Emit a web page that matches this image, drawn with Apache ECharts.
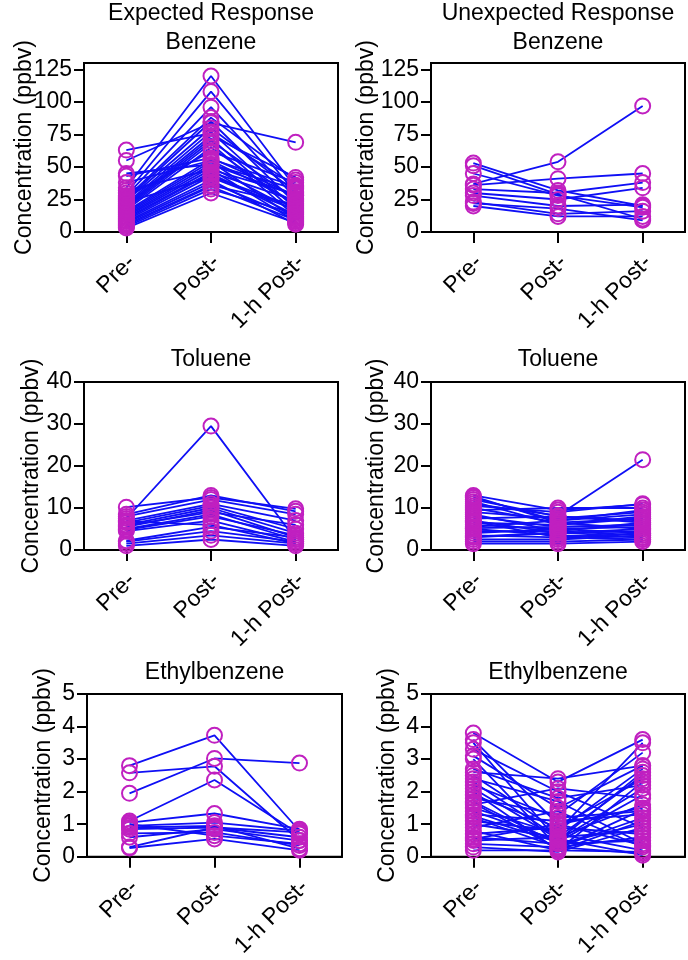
<!DOCTYPE html>
<html>
<head>
<meta charset="utf-8">
<script src="https://cdn.jsdelivr.net/npm/echarts@6/dist/echarts.min.js"></script>
<style>
html,body{margin:0;padding:0;background:#fff;}
#chart{width:688px;height:960px;}
</style>
</head>
<body>
<div id="chart"></div>
<script>
// Categories
const categories = ['Pre-', 'Post-', '1-h Post-'];

// Panel titles
const panelTitles = ['Expected Response\nBenzene', 'Unexpected Response\nBenzene', 'Toluene', 'Toluene', 'Ethylbenzene', 'Ethylbenzene'];
const yAxisName = 'Concentration (ppbv)';

// Tick labels
const benzeneTicks = [0, 25, 50, 75, 100, 125];
const tolueneTicks = [0, 10, 20, 30, 40];
const ethylTicks = [0, 1, 2, 3, 4, 5];

// Expected Response - Benzene
const benzExpPre  = [63, 55, 45, 43, 34, 30, 28, 26, 25, 24, 22, 21, 20, 19, 18, 17, 16, 15, 14, 13, 12, 11, 10, 9, 8, 7, 6, 5, 4, 3, 27, 23, 32, 38];
const benzExpPost = [76, 84, 52, 57, 120, 108, 96, 88, 85, 80, 77, 74, 72, 70, 68, 65, 56, 54, 52, 50, 48, 46, 45, 43, 40, 38, 36, 35, 33, 30, 62, 42, 48, 55];
const benzExp1h   = [36, 69, 33, 28, 34, 30, 26, 40, 22, 31, 18, 42, 15, 25, 12, 20, 35, 10, 28, 16, 8, 24, 13, 19, 6, 11, 21, 9, 14, 7, 38, 17, 29, 23];

// Unexpected Response - Benzene
const benzUnPre  = [37, 53, 51, 45, 36, 33, 30, 28, 23, 20, 22];
const benzUnPost = [54, 32, 29, 28, 41, 30, 25, 20, 14, 12, 18];
const benzUn1h   = [97, 20, 10, 19, 45, 38, 34, 21, 16, 12, 9];

// Expected Response - Toluene
const tolExpPre  = [7.5, 10.2, 8.5, 8, 7, 6.5, 6, 5.5, 5, 4.8, 4.5, 6.8, 5.8, 2, 1.5, 1, 2.2];
const tolExpPost = [29.5, 12.5, 13, 12, 11, 10.5, 10, 9.5, 8.5, 8, 7, 6, 9, 4.5, 3.5, 2.5, 5.5];
const tolExp1h   = [2.5, 9.8, 9.2, 8.5, 7, 5, 4, 3, 2.5, 3.5, 2, 1.5, 6, 2, 1.5, 1, 3];

// Unexpected Response - Toluene
const tolUnPre  = [13, 12.5, 12, 11.5, 11, 10.5, 10, 9, 8.5, 8, 7.5, 7, 6.5, 6, 5.5, 5, 4.5, 4, 3.5, 3, 2.5, 2, 1.5, 9.5, 12.8, 6.8, 5.2, 3.2];
const tolUnPost = [9.5, 7, 8, 6, 8.2, 9, 6.5, 7.5, 4.5, 5.5, 8, 4, 6, 5, 7, 3.5, 4.5, 5, 3, 4, 2.5, 2, 1.5, 10, 6.5, 3, 5.5, 4.2];
const tolUn1h   = [10.8, 8.5, 6.5, 7.5, 21.5, 11, 5, 9, 3.5, 6, 7, 4.5, 8, 5.5, 9.5, 3, 6.5, 4, 2.5, 5, 3.5, 2.5, 2, 10, 7.5, 4, 6, 3];

// Expected Response - Ethylbenzene
const ethExpPre  = [2.8, 2.58, 1.95, 1.1, 1.05, 0.95, 0.9, 0.85, 0.6, 0.3, 0.27, 0.72, 1.0];
const ethExpPost = [3.73, 2.78, 3.02, 2.36, 1.33, 1.05, 0.95, 0.9, 0.85, 0.9, 0.55, 0.75, 0.65];
const ethExp1h   = [0.8, 0.5, 2.88, 0.7, 0.85, 0.8, 0.25, 0.6, 0.5, 0.75, 0.2, 0.35, 0.4];

// Unexpected Response - Ethylbenzene
const ethUnPre  = [3.8, 3.6, 3.5, 3.3, 3.1, 3.0, 2.6, 2.5, 2.4, 2.3, 2.2, 2.0, 1.9, 1.8, 1.7, 1.6, 1.5, 1.4, 1.3, 1.2, 1.1, 1.0, 0.9, 0.8, 0.7, 0.6, 0.5, 0.4, 0.3, 0.2, 2.7, 1.25, 0.55, 1.65, 2.1];
const ethUnPost = [2.3, 1.0, 0.5, 2.0, 1.5, 0.3, 2.4, 0.8, 1.7, 0.6, 1.2, 0.2, 0.9, 1.3, 0.4, 2.1, 0.7, 0.5, 1.1, 0.3, 0.8, 0.6, 1.4, 0.2, 0.9, 0.4, 0.6, 0.3, 0.15, 0.2, 1.8, 0.45, 1.0, 0.25, 0.55];
const ethUn1h   = [3.6, 1.5, 2.6, 0.9, 2.8, 1.2, 2.8, 3.5, 0.4, 2.5, 1.4, 2.3, 0.7, 3.2, 1.0, 1.8, 0.2, 2.1, 1.3, 0.6, 2.7, 0.8, 0.3, 1.1, 2.4, 0.5, 1.6, 0.1, 0.9, 0.15, 2.2, 1.9, 0.35, 1.45, 0.05];

const panels = [
  {pre: benzExpPre, post: benzExpPost, h1: benzExp1h, ticks: benzeneTicks, max: 130},
  {pre: benzUnPre, post: benzUnPost, h1: benzUn1h, ticks: benzeneTicks, max: 130},
  {pre: tolExpPre, post: tolExpPost, h1: tolExp1h, ticks: tolueneTicks, max: 40},
  {pre: tolUnPre, post: tolUnPost, h1: tolUn1h, ticks: tolueneTicks, max: 40},
  {pre: ethExpPre, post: ethExpPost, h1: ethExp1h, ticks: ethylTicks, max: 5},
  {pre: ethUnPre, post: ethUnPost, h1: ethUn1h, ticks: ethylTicks, max: 5}
];

// layout
const gridBoxes = [
  {left: 84, top: 63, width: 254, height: 169},
  {left: 431, top: 63, width: 254, height: 169},
  {left: 84, top: 382, width: 254, height: 168},
  {left: 431, top: 382, width: 254, height: 168},
  {left: 87, top: 694, width: 255, height: 168},
  {left: 431, top: 694, width: 254, height: 168}
];
const titleTops = [-1, -1, 345, 345, 658, 658];
const nameGaps = [48, 53, 41, 43, 32, 32];

const FONT = "'Liberation Sans', Arial, Helvetica, sans-serif";
const FS = 23;
const BLUE = '#0f0ff5';
const MAG = '#c020c0';

const grid = [], xAxis = [], yAxis = [], series = [], title = [];
gridBoxes.forEach((g, p) => {
  grid.push(Object.assign({show: true, borderColor: '#000', borderWidth: 2, backgroundColor: 'transparent', containLabel: false}, g));
  title.push({
    text: panelTitles[p], left: g.left + g.width / 2, top: titleTops[p], textAlign: 'center', padding: 0,
    textStyle: {fontFamily: FONT, fontSize: FS, fontWeight: 'normal', color: '#000', lineHeight: 29}
  });
  xAxis.push({
    type: 'category', gridIndex: p, data: categories, boundaryGap: true,
    axisLine: {show: true, lineStyle: {color: '#000', width: 2}},
    axisTick: {show: true, alignWithLabel: true, length: 11, lineStyle: {color: '#000', width: 2}},
    axisLabel: {interval: 0, rotate: 45, margin: 16, align: 'right', verticalAlign: 'top', padding: [0, 4, 0, 0], fontFamily: FONT, fontSize: FS, color: '#000'},
    splitLine: {show: false}
  });
  const pn = panels[p];
  yAxis.push({
    type: 'value', gridIndex: p, min: 0, max: pn.max,
    name: yAxisName, nameLocation: 'middle', nameGap: nameGaps[p], nameMoveOverlap: false,
    nameTextStyle: {fontFamily: FONT, fontSize: FS, color: '#000'},
    axisLine: {show: true, lineStyle: {color: '#000', width: 2}},
    axisTick: {show: true, length: 10, lineStyle: {color: '#000', width: 2}, customValues: pn.ticks},
    axisLabel: {margin: 12, fontFamily: FONT, fontSize: FS, color: '#000', customValues: pn.ticks},
    splitLine: {show: false}
  });
  for (let i = 0; i < pn.pre.length; i++) {
    series.push({
      type: 'line', xAxisIndex: p, yAxisIndex: p,
      data: [pn.pre[i], pn.post[i], pn.h1[i]],
      symbol: 'circle', symbolSize: 15, showSymbol: true,
      itemStyle: {color: 'rgba(255,255,255,0)', borderColor: MAG, borderWidth: 2},
      lineStyle: {color: BLUE, width: 1.8},
      emphasis: {disabled: true}, silent: true, animation: false
    });
  }
});

const chart = echarts.init(document.getElementById('chart'), null, {renderer: 'canvas'});
chart.setOption({backgroundColor: '#fff', animation: false, title, grid, xAxis, yAxis, series});
</script>
</body>
</html>
